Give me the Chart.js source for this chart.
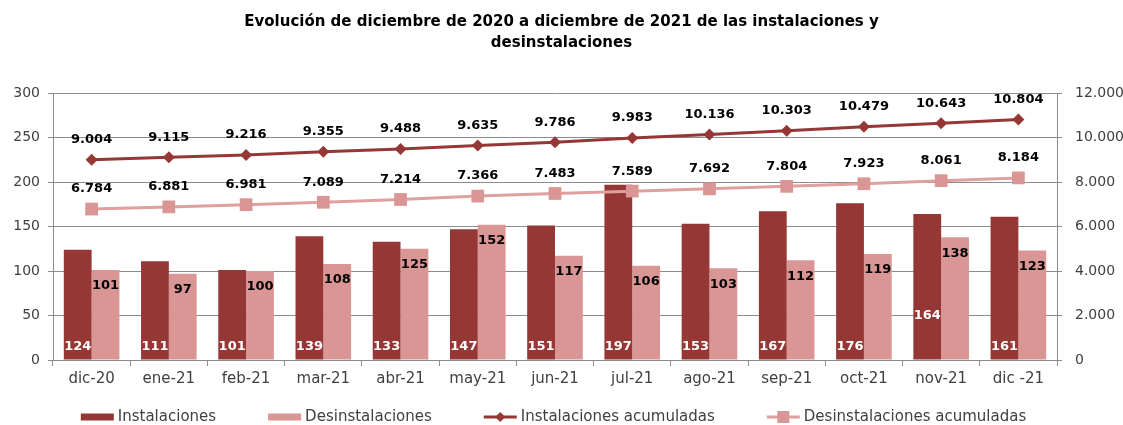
<!DOCTYPE html>
<html>
<head>
<meta charset="utf-8">
<script src="https://cdn.jsdelivr.net/npm/chart.js@4"></script>
<style>
  html, body { margin: 0; padding: 0; background: #fff; }
  #wrap { width: 1123px; height: 425px; }
</style>
</head>
<body>
<div id="wrap"><canvas id="chartInst"></canvas></div>
<script>
// Datos
const meses = ["dic-20", "ene-21", "feb-21", "mar-21", "abr-21", "may-21", "jun-21",
  "jul-21", "ago-21", "sep-21", "oct-21", "nov-21", "dic -21"];
const instalaciones = [124, 111, 101, 139, 133, 147, 151, 197, 153, 167, 176, 164, 161];
const desinstalaciones = [101, 97, 100, 108, 125, 152, 117, 106, 103, 112, 119, 138, 123];
const instAcumuladas = [9004, 9115, 9216, 9355, 9488, 9635, 9786, 9983, 10136, 10303, 10479, 10643, 10804];
const desinstAcumuladas = [6784, 6881, 6981, 7089, 7214, 7366, 7483, 7589, 7692, 7804, 7923, 8061, 8184];
const ticksIzq = [0, 50, 100, 150, 200, 250, 300];
const ticksDer = [0, 2000, 4000, 6000, 8000, 10000, 12000];

const rojo = "#953735";
const rosa = "#D99694";
const rosaLinea = "#DFA09E";
const gris = "#8C8C8C";
const fuente = "'DejaVu Sans', sans-serif";

// separador de miles con punto
function fmt(v) {
  return String(v).replace(/\B(?=(\d{3})+(?!\d))/g, ".");
}

// Etiquetas de datos
const etiquetas = {
  id: "etiquetas",
  afterDatasetsDraw(chart) {
    const ctx = chart.ctx;
    ctx.save();
    ctx.font = "bold 13px " + fuente;
    ctx.textAlign = "center";
    ctx.textBaseline = "middle";
    chart.data.datasets.forEach((ds, i) => {
      const meta = chart.getDatasetMeta(i);
      meta.data.forEach((el, j) => {
        const txt = fmt(ds.data[j]);
        if (ds.tipo === "inst") {
          ctx.fillStyle = "#fff";
          const y = j === 11 ? el.base - 44 : el.base - 13;
          ctx.fillText(txt, el.x, y);
        } else if (ds.tipo === "desinst") {
          ctx.fillStyle = "#000";
          ctx.fillText(txt, el.x, el.y + 16);
        } else {
          ctx.fillStyle = "#000";
          ctx.fillText(txt, el.x, el.y - 20);
        }
      });
    });
    ctx.restore();
  }
};

// Leyenda dibujada a mano
const leyenda = {
  id: "leyenda",
  afterDraw(chart) {
    const ctx = chart.ctx;
    ctx.save();
    ctx.font = "15px " + fuente;
    ctx.textBaseline = "middle";
    const marca = 33, hueco = 4, sep = 52, y = 417;
    const items = chart.data.datasets.map(ds => ({ ds, w: marca + hueco + ctx.measureText(ds.label).width }));
    const total = items.reduce((s, it) => s + it.w, 0) + sep * (items.length - 1);
    let x = (chart.width - total) / 2 - 8;
    items.forEach(({ ds }, k) => {
      if (ds.type === "bar") {
        ctx.fillStyle = ds.backgroundColor;
        ctx.fillRect(x, y - 3.5, marca, 7);
      } else {
        ctx.strokeStyle = ds.borderColor;
        ctx.lineWidth = 3;
        ctx.beginPath();
        ctx.moveTo(x, y);
        ctx.lineTo(x + marca, y);
        ctx.stroke();
        ctx.fillStyle = ds.pointBackgroundColor;
        const cx = x + marca / 2;
        ctx.beginPath();
        if (ds.pointStyle === "rectRot") {
          ctx.moveTo(cx, y - 5); ctx.lineTo(cx + 5, y); ctx.lineTo(cx, y + 5); ctx.lineTo(cx - 5, y);
        } else {
          ctx.rect(cx - 6, y - 6, 12, 12);
        }
        ctx.closePath();
        ctx.fill();
      }
      ctx.fillStyle = "#404040";
      ctx.textAlign = "left";
      ctx.fillText(ds.label, x + marca + hueco, y);
      x += items[k].w + sep;
    });
    ctx.restore();
  }
};

const ctxInst = document.getElementById("chartInst").getContext("2d");

const chartInst = new Chart(ctxInst, {
  data: {
    labels: meses,
    datasets: [
      {
        type: "bar", tipo: "inst", label: "Instalaciones",
        data: instalaciones, backgroundColor: rojo, yAxisID: "y", order: 2,
        categoryPercentage: 0.72, barPercentage: 1.0
      },
      {
        type: "bar", tipo: "desinst", label: "Desinstalaciones",
        data: desinstalaciones, backgroundColor: rosa, yAxisID: "y", order: 2,
        categoryPercentage: 0.72, barPercentage: 1.0
      },
      {
        type: "line", tipo: "linea", label: "Instalaciones acumuladas",
        data: instAcumuladas, borderColor: rojo, backgroundColor: rojo,
        pointBackgroundColor: rojo, pointBorderWidth: 0, pointStyle: "rectRot",
        pointRadius: 6, borderWidth: 3, yAxisID: "y1", order: 1
      },
      {
        type: "line", tipo: "linea", label: "Desinstalaciones acumuladas",
        data: desinstAcumuladas, borderColor: rosaLinea, backgroundColor: rosaLinea,
        pointBackgroundColor: rosa, pointBorderWidth: 0, pointStyle: "rect",
        pointRadius: 9, borderWidth: 3, yAxisID: "y1", order: 1
      }
    ]
  },
  options: {
    responsive: true,
    maintainAspectRatio: false,
    animation: false,
    layout: { padding: 0 },
    plugins: {
      legend: { display: false },
      tooltip: { enabled: false },
      title: {
        display: true,
        text: ["Evolución de diciembre de 2020 a diciembre de 2021 de las instalaciones y", "desinstalaciones"],
        color: "#000",
        font: { family: fuente, size: 15, weight: "bold", lineHeight: 1.4 },
        padding: { top: 12, bottom: 39 }
      }
    },
    scales: {
      x: {
        grid: { display: true, drawOnChartArea: false, offset: true, color: gris, tickLength: 6 },
        border: { color: gris },
        ticks: { color: "#404040", font: { family: fuente, size: 15 }, padding: 4 },
        afterFit: s => { s.height = 65; }
      },
      y: {
        position: "left",
        min: 0, max: 300,
        afterBuildTicks: s => { s.ticks = ticksIzq.map(v => ({ value: v })); },
        grid: { color: gris, tickLength: 5 },
        border: { color: gris },
        ticks: { color: "#404040", font: { family: fuente, size: 14 }, padding: 8 },
        afterFit: s => { s.width = 53; }
      },
      y1: {
        position: "right",
        min: 0, max: 12000,
        afterBuildTicks: s => { s.ticks = ticksDer.map(v => ({ value: v })); },
        grid: { drawOnChartArea: false, color: gris, tickLength: 5 },
        border: { color: gris },
        ticks: { color: "#404040", font: { family: fuente, size: 14 }, padding: 13, callback: v => fmt(v) },
        afterFit: s => { s.width = 66; }
      }
    }
  },
  plugins: [etiquetas, leyenda]
});
</script>
</body>
</html>
